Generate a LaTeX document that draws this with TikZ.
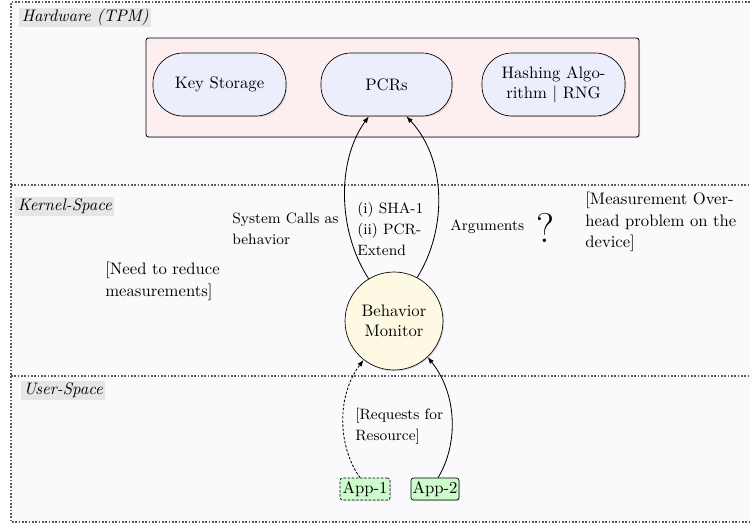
\documentclass[tikz,border=0pt]{standalone}
\usetikzlibrary{shadows,arrows.meta,calc}
\definecolor{bgc}{RGB}{250,250,253}
\definecolor{tpmfill}{RGB}{253,239,240}
\definecolor{unitfill}{RGB}{236,238,251}
\definecolor{monfill}{RGB}{253,249,226}
\definecolor{appfill}{RGB}{204,252,204}
\definecolor{lblfill}{RGB}{230,230,230}
\begin{document}
\begin{tikzpicture}[x=0.6pt,y=-0.6pt,
  layerline/.style={dash pattern=on 1pt off 1pt, line width=0.7pt, black!65},
  layerlabel/.style={anchor=west, fill=lblfill, font=\itshape, inner xsep=1.5pt, inner ysep=0pt, minimum height=11.5pt},
  softshadow/.style={drop shadow={opacity=0.25, shadow xshift=0.7pt, shadow yshift=-0.7pt}},
  tpmbox/.style={draw, rounded corners=1.5pt, fill=tpmfill, softshadow, line width=0.5pt, inner sep=0pt},
  unit/.style={draw, fill=unitfill, rounded corners=18pt, minimum height=37.8pt, inner sep=0pt, align=center, softshadow},
  monitor/.style={draw, circle, fill=monfill, minimum size=58.8pt, inner sep=0pt, align=center, softshadow},
  appbox/.style={draw, fill=appfill, rounded corners=1.5pt, minimum height=13.2pt, inner sep=0.8pt, softshadow},
  notetext/.style={anchor=west, align=left, inner sep=0pt, font=\fontsize{10}{13}\selectfont},
  smalltext/.style={anchor=west, align=left, inner sep=0pt, font=\fontsize{9}{12.6}\selectfont},
  arr/.style={-{Latex[length=4pt,width=3pt]}, line width=0.5pt},
  dashline/.style={dash pattern=on 1.5pt off 1pt},
]
\useasboundingbox (0,0) rectangle (750,524);
% layers
\fill[bgc] (11,2) rectangle (760,522);
\draw[layerline] (760,2) -- (11,2) -- (11,522) -- (760,522);
\draw[layerline] (11,185) -- (760,185);
\draw[layerline] (11,376) -- (760,376);
\node[layerlabel] (lhw) at (19,17.5) {Hardware (TPM)};
\node[layerlabel] (lks) at (15,206.5) {Kernel-Space};
\node[layerlabel] (lus) at (21,390.5) {User-Space};
% TPM
\node[tpmbox, minimum width=295.8pt, minimum height=59.4pt] (tpm) at (392.5,87.5) {};
\node[unit, minimum width=79.8pt] (keys) at (219.5,84.5) {Key Storage};
\node[unit, minimum width=78.6pt] (pcrs) at (386.5,84.5) {PCRs};
\node[unit, minimum width=85.8pt] (hash) at (553.5,84.5) {Hashing Algo-\\rithm $|$ RNG};
% monitor
\node[monitor] (mon) at (394,321) {Behavior\\Monitor};
% apps
\node[appbox, dashline, minimum width=30pt] (app1) at (365,489) {App-1};
\node[appbox, minimum width=28.8pt] (app2) at (435,489) {App-2};
% connectors
\draw[arr] (mon.121) .. controls (337,230) and (337,160) .. (pcrs.-119);
\draw[arr] (mon.62) .. controls (447,230) and (447,160) .. (pcrs.-58);
\draw[arr, dashline] (app1.114) .. controls (337,445) and (337,395) .. (mon.-128);
\draw[arr] (app2.75) .. controls (458,445) and (458,395) .. (mon.-47);
% labels
\node[smalltext] (sys) at (232,229) {System Calls as\\behavior};
\node[smalltext] (sha) at (357,229) {(i) SHA-1\\(ii) PCR-\\Extend};
\node[smalltext] (args) at (450,227) {Arguments};
\node[inner sep=0pt, font=\Huge] (q) at (545,228) {?};
\node[notetext] (need) at (105,281) {[Need to reduce\\measurements]};
\node[notetext] (ovh) at (585,222) {[Measurement Over-\\head problem on the\\device]};
\node[smalltext] (req) at (355,426) {[Requests for\\Resource]};
\end{tikzpicture}
\end{document}
